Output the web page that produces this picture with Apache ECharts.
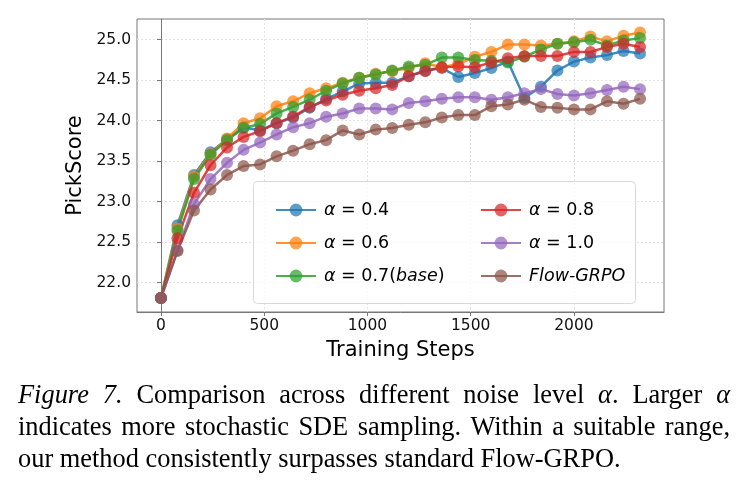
<!DOCTYPE html>
<html>
<head>
<meta charset="utf-8">
<script src="https://cdn.jsdelivr.net/npm/echarts@6/dist/echarts.min.js"></script>
<style>html,body{margin:0;padding:0;background:#fff;}#c{width:738px;height:485px;}</style>
</head>
<body>
<div id="c"></div>
<script>
const steps = [0, 80, 160, 240, 320, 400, 480, 560, 640, 720, 800, 880, 960, 1040, 1120, 1200, 1280, 1360, 1440, 1520, 1600, 1680, 1760, 1840, 1920, 2000, 2080, 2160, 2240, 2320];
const alpha04 = [21.81, 22.71, 23.33, 23.61, 23.77, 23.92, 23.88, 23.97, 24.04, 24.16, 24.27, 24.36, 24.46, 24.47, 24.47, 24.55, 24.62, 24.65, 24.54, 24.59, 24.65, 24.73, 24.28, 24.42, 24.62, 24.73, 24.78, 24.81, 24.86, 24.83];
const alpha06 = [21.81, 22.67, 23.31, 23.59, 23.78, 23.97, 24.03, 24.18, 24.24, 24.34, 24.40, 24.47, 24.53, 24.58, 24.61, 24.65, 24.71, 24.66, 24.70, 24.79, 24.85, 24.94, 24.94, 24.93, 24.95, 24.98, 25.04, 24.98, 25.05, 25.09];
const alpha07 = [21.81, 22.64, 23.28, 23.58, 23.76, 23.91, 23.96, 24.09, 24.17, 24.26, 24.37, 24.46, 24.53, 24.57, 24.62, 24.67, 24.69, 24.78, 24.78, 24.75, 24.74, 24.72, 24.79, 24.88, 24.95, 24.97, 25.00, 24.93, 24.99, 25.02];
const alpha08 = [21.81, 22.55, 23.11, 23.45, 23.67, 23.80, 23.87, 23.97, 24.05, 24.17, 24.25, 24.32, 24.37, 24.40, 24.44, 24.55, 24.61, 24.66, 24.67, 24.66, 24.72, 24.77, 24.80, 24.80, 24.80, 24.85, 24.85, 24.91, 24.95, 24.91];
const alpha10 = [21.81, 22.40, 22.97, 23.28, 23.48, 23.64, 23.73, 23.83, 23.92, 23.97, 24.05, 24.09, 24.15, 24.15, 24.14, 24.22, 24.24, 24.27, 24.29, 24.29, 24.26, 24.29, 24.34, 24.39, 24.33, 24.31, 24.34, 24.38, 24.42, 24.39];
const flowGRPO = [21.81, 22.39, 22.89, 23.15, 23.33, 23.44, 23.46, 23.56, 23.63, 23.71, 23.76, 23.88, 23.83, 23.89, 23.91, 23.95, 23.98, 24.04, 24.07, 24.07, 24.18, 24.20, 24.26, 24.17, 24.16, 24.14, 24.14, 24.24, 24.21, 24.27];
const seriesNames = ['a04', 'a06', 'a07', 'a08', 'a10', 'flow'];
const seriesLabels = ['{m|α} = 0.4', '{m|α} = 0.6', '{m|α} = 0.7({m|base})', '{m|α} = 0.8', '{m|α} = 1.0', '{m|Flow-GRPO}'];
const xTicks = [0, 500, 1000, 1500, 2000];
const yTicks = [22.0, 22.5, 23.0, 23.5, 24.0, 24.5, 25.0];
// *...* marks italic runs; words separated by spaces
const captionLines = [
  '*Figure* *7.* Comparison across different noise level *α*. Larger *α*',
  'indicates more stochastic SDE sampling. Within a suitable range,',
  'our method consistently surpasses standard Flow-GRPO.'
];
const captionJustify = [true, true, false];

const colors = ['#1f77b4', '#ff7f0e', '#2ca02c', '#d62728', '#9467bd', '#8c564b'];
const allData = [alpha04, alpha06, alpha07, alpha08, alpha10, flowGRPO];
const FONT = 'DejaVu Sans';
const SERIF = 'Liberation Serif';
const CAP_SIZE = 26.4;

const chart = echarts.init(document.getElementById('c'), null, {renderer: 'canvas'});
const series = allData.map((d, k) => ({
  name: seriesNames[k],
  type: 'line',
  data: steps.map((s, i) => [s, d[i]]),
  symbol: 'circle',
  symbolSize: 12,
  lineStyle: {width: 2.5, color: colors[k], opacity: 0.85},
  itemStyle: {color: colors[k], opacity: 0.72},
  emphasis: {disabled: true},
  animation: false
}));

const legendText = {
  fontFamily: FONT, fontSize: 17.5, color: '#000', padding: [0, 0, 0, 3],
  rich: {m: {fontFamily: FONT, fontSize: 17.5, fontStyle: 'italic', color: '#000'}}
};
function mkLegend(names, left) {
  return {
    orient: 'vertical', left: left, top: 196, z: 60, itemWidth: 40, itemHeight: 16, itemGap: 15,
    data: names, selectedMode: false, textStyle: legendText,
    formatter: n => seriesLabels[seriesNames.indexOf(n)]
  };
}

// caption layout (justified like the paper)
const cv = document.createElement('canvas').getContext('2d');
function runFont(it) { return (it ? 'italic ' : '') + CAP_SIZE + 'px "' + SERIF + '"'; }
function parseWord(w) {
  const runs = []; const parts = w.split('*');
  parts.forEach((p, j) => { if (p) runs.push({t: p, it: j % 2 === 1}); });
  return runs;
}
const capEls = [];
const capLeft = 18, capRight = 730;
captionLines.forEach((line, li) => {
  const raw = line.match(/(\*[^*]*\*|[^ *])+/g);
  const words = raw.map(parseWord);
  const widths = words.map(runs => runs.reduce((a, r) => { cv.font = runFont(r.it); r.w = cv.measureText(r.t).width; return a + r.w; }, 0));
  cv.font = runFont(false);
  const sp = cv.measureText(' ').width;
  const total = widths.reduce((a, b) => a + b, 0);
  const gap = captionJustify[li] ? (capRight - capLeft - total) / (words.length - 1) : sp;
  let x = capLeft;
  words.forEach((runs, wi) => {
    let rx = x;
    runs.forEach(r => {
      capEls.push({type: 'text', left: rx, top: 383 + li * 32, z: 100,
        style: {text: r.t, font: runFont(r.it), fill: '#000'}});
      rx += r.w;
    });
    x += widths[wi] + gap;
  });
});

const gridLine = {show: true, lineStyle: {color: '#e3e3e3', type: [2, 2], width: 1}};
chart.setOption({
  animation: false,
  grid: {left: 137, top: 19, width: 527, height: 293, show: true, borderColor: '#777', borderWidth: 1},
  xAxis: {
    type: 'value', min: -116, max: 2436,
    name: 'Training Steps', nameLocation: 'middle', nameGap: 28,
    nameTextStyle: {fontFamily: FONT, fontSize: 21, color: '#000'},
    axisLine: {show: true, lineStyle: {color: '#777'}},
    axisTick: {show: true, length: 4, customValues: xTicks, lineStyle: {color: '#777'}},
    axisLabel: {customValues: xTicks, fontFamily: FONT, fontSize: 15.5, color: '#111', margin: 6,
      formatter: v => String(Math.round(v))},
    splitLine: gridLine
  },
  yAxis: {
    type: 'value', min: 21.638, max: 25.256,
    name: 'PickScore', nameLocation: 'middle', nameGap: 43,
    nameTextStyle: {fontFamily: FONT, fontSize: 21, color: '#000'},
    axisLine: {show: true, lineStyle: {color: '#777'}},
    axisTick: {show: true, length: 4, customValues: yTicks, lineStyle: {color: '#777'}},
    axisLabel: {customValues: yTicks, fontFamily: FONT, fontSize: 15.5, color: '#111', margin: 6,
      formatter: v => Number(v).toFixed(1)},
    splitLine: gridLine
  },
  legend: [mkLegend(seriesNames.slice(0, 3), 270), mkLegend(seriesNames.slice(3), 475)],
  graphic: [
    {type: 'rect', left: 253, top: 181, z: 5, shape: {width: 382, height: 122, r: 4},
      style: {fill: 'rgba(255,255,255,0.8)', stroke: '#d8d8d8', lineWidth: 1}},
    ...capEls
  ],
  series: series
});
</script>
</body>
</html>
